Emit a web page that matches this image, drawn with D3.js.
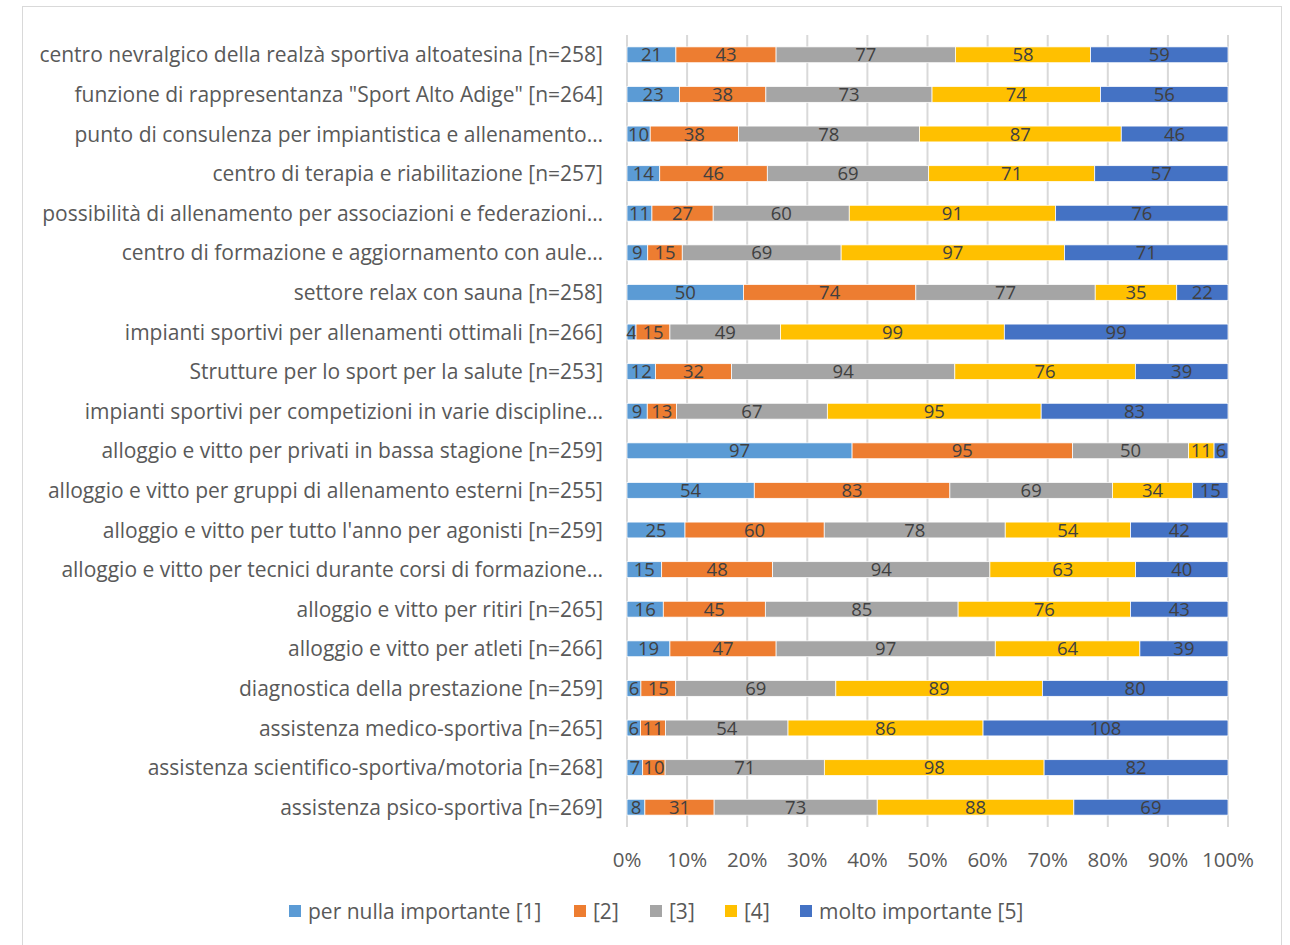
<!DOCTYPE html>
<html>
<head>
<meta charset="utf-8">
<script src="https://cdn.jsdelivr.net/npm/d3@7"></script>
<style>
  body { margin: 0; background: #fff; }
  svg text { font-family: "Open Sans", "Noto Sans", sans-serif; }
</style>
</head>
<body>
<svg width="1290" height="945"></svg>
<script>
var categories = [
    "centro nevralgico della realzà sportiva altoatesina [n=258]",
    "funzione di rappresentanza \"Sport Alto Adige\" [n=264]",
    "punto di consulenza per impiantistica e allenamento…",
    "centro di terapia e riabilitazione [n=257]",
    "possibilità di allenamento per associazioni e federazioni…",
    "centro di formazione e aggiornamento con aule…",
    "settore relax con sauna [n=258]",
    "impianti sportivi per allenamenti ottimali [n=266]",
    "Strutture per lo sport per la salute [n=253]",
    "impianti sportivi per competizioni in varie discipline…",
    "alloggio e vitto per privati in bassa stagione [n=259]",
    "alloggio e vitto per gruppi di allenamento esterni [n=255]",
    "alloggio e vitto per tutto l'anno per agonisti [n=259]",
    "alloggio e vitto per tecnici durante corsi di formazione…",
    "alloggio e vitto per ritiri [n=265]",
    "alloggio e vitto per atleti [n=266]",
    "diagnostica della prestazione [n=259]",
    "assistenza medico-sportiva [n=265]",
    "assistenza scientifico-sportiva/motoria [n=268]",
    "assistenza psico-sportiva [n=269]"
];

var seriesNames = ["per nulla importante [1]", "[2]", "[3]", "[4]", "molto importante [5]"];
var seriesColors = ["#5B9BD5", "#ED7D31", "#A5A5A5", "#FFC000", "#4472C4"];

var s1 = [21, 23, 10, 14, 11, 9, 50, 4, 12, 9, 97, 54, 25, 15, 16, 19, 6, 6, 7, 8];
var s2 = [43, 38, 38, 46, 27, 15, 74, 15, 32, 13, 95, 83, 60, 48, 45, 47, 15, 11, 10, 31];
var s3 = [77, 73, 78, 69, 60, 69, 77, 49, 94, 67, 50, 69, 78, 94, 85, 97, 69, 54, 71, 73];
var s4 = [58, 74, 87, 71, 91, 97, 35, 99, 76, 95, 11, 34, 54, 63, 76, 64, 89, 86, 98, 88];
var s5 = [59, 56, 46, 57, 76, 71, 22, 99, 39, 83, 6, 15, 42, 40, 43, 39, 80, 108, 82, 69];

var tickLabels = ["0%", "10%", "20%", "30%", "40%", "50%", "60%", "70%", "80%", "90%", "100%"];

var svg = d3.select("svg");

// chart frame
svg.append("rect")
    .attr("x", 22.5).attr("y", 6.5)
    .attr("width", 1259).attr("height", 950)
    .attr("fill", "#fff")
    .attr("stroke", "#D9D9D9")
    .attr("stroke-width", 1);

var margin = {left: 627, right: 1228, top: 35, bottom: 827};

var x = d3.scaleLinear().domain([0, 1]).range([margin.left, margin.right]);
var y = d3.scaleBand().domain(categories).range([margin.top, margin.bottom]).paddingInner(0.6).paddingOuter(0.3);

var rows = categories.map(function (c, i) {
    var vals = [s1[i], s2[i], s3[i], s4[i], s5[i]];
    var total = d3.sum(vals);
    var row = {cat: c};
    vals.forEach(function (v, k) { row["k" + k] = v / total; row["v" + k] = v; });
    return row;
});

var stack = d3.stack().keys(["k0", "k1", "k2", "k3", "k4"]);
var layers = stack(rows);

// gridlines
svg.append("g")
    .selectAll("line")
    .data(d3.range(0, 1.0001, 0.1))
    .enter().append("line")
    .attr("x1", function (d) { return x(d); })
    .attr("x2", function (d) { return x(d); })
    .attr("y1", margin.top)
    .attr("y2", margin.bottom)
    .attr("stroke", "#D9D9D9")
    .attr("stroke-width", 2);

// bars
var layer = svg.append("g")
    .selectAll("g")
    .data(layers)
    .enter().append("g")
    .attr("fill", function (d, i) { return seriesColors[i]; });

layer.selectAll("rect")
    .data(function (d) { return d; })
    .enter().append("rect")
    .attr("x", function (d) { return x(d[0]); })
    .attr("width", function (d) { return x(d[1]) - x(d[0]); })
    .attr("y", function (d) { return y(d.data.cat); })
    .attr("height", y.bandwidth())
    .attr("stroke", "#fff")
    .attr("stroke-width", 0.75);

// data labels
layer.each(function (l, li) {
    d3.select(this).selectAll("text")
        .data(l)
        .enter().append("text")
        .attr("x", function (d) { return (x(d[0]) + x(d[1])) / 2; })
        .attr("y", function (d) { return y(d.data.cat) + y.bandwidth() / 2; })
        .attr("dy", "0.36em")
        .attr("text-anchor", "middle")
        .attr("fill", "#404040")
        .style("font-size", "18.5px")
        .text(function (d) { return d.data["v" + li]; });
});

// category labels
svg.append("g")
    .selectAll("text")
    .data(categories)
    .enter().append("text")
    .attr("x", 603)
    .attr("y", function (d) { return y(d) + y.bandwidth() / 2; })
    .attr("dy", "0.36em")
    .attr("text-anchor", "end")
    .attr("fill", "#595959")
    .style("font-size", "21px")
    .text(function (d) { return d; });

// x axis labels
svg.append("g")
    .selectAll("text")
    .data(tickLabels)
    .enter().append("text")
    .attr("x", function (d, i) { return x(i / 10); })
    .attr("y", 860)
    .attr("dy", "0.36em")
    .attr("text-anchor", "middle")
    .attr("fill", "#595959")
    .style("font-size", "20.5px")
    .text(function (d) { return d; });

// legend
var legendX = [289, 574, 650, 725, 800];
var legend = svg.append("g")
    .selectAll("g")
    .data(seriesNames)
    .enter().append("g")
    .attr("transform", function (d, i) { return "translate(" + legendX[i] + ",911)"; });

legend.append("rect")
    .attr("x", 0).attr("y", -6)
    .attr("width", 12).attr("height", 12)
    .attr("fill", function (d, i) { return seriesColors[i]; });

legend.append("text")
    .attr("x", 19)
    .attr("y", 0)
    .attr("dy", "0.36em")
    .attr("fill", "#595959")
    .style("font-size", "21px")
    .text(function (d) { return d; });
</script>
</body>
</html>
